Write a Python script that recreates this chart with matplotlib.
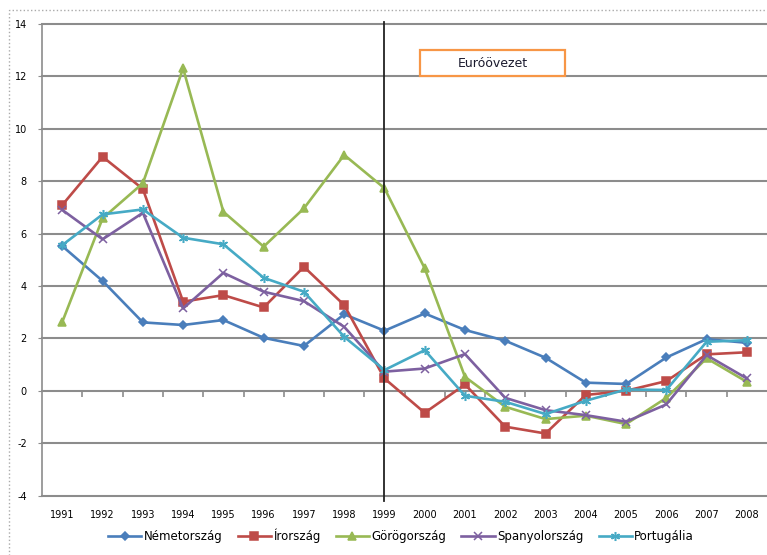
import matplotlib.pyplot as plt
from matplotlib.patches import Rectangle

plt.rcParams["axes.unicode_minus"] = False

years = [str(y) for y in range(1991, 2009)]

nemetorszag = [5.52, 4.19, 2.61, 2.51, 2.70, 2.02, 1.71, 2.92, 2.29,
               2.95, 2.32, 1.91, 1.26, 0.31, 0.26, 1.27, 1.97, 1.83]
irorszag = [7.09, 8.93, 7.70, 3.40, 3.65, 3.18, 4.73, 3.27, 0.47,
            -0.84, 0.24, -1.37, -1.63, -0.16, 0.0, 0.37, 1.39, 1.47]
gorogorszag = [2.63, 6.58, 7.92, 12.3, 6.83, 5.50, 6.96, 9.0, 7.73,
               4.67, 0.53, -0.61, -1.08, -0.95, -1.27, -0.27, 1.24, 0.34]
spanyolorszag = [6.90, 5.78, 6.79, 3.14, 4.50, 3.78, 3.42, 2.44, 0.73,
                 0.85, 1.40, -0.27, -0.74, -0.93, -1.18, -0.52, 1.36, 0.47]
portugalia = [5.56, 6.73, 6.92, 5.84, 5.59, 4.31, 3.78, 2.06, 0.79,
              1.55, -0.19, -0.42, -0.89, -0.38, 0.05, 0.03, 1.87, 1.93]

series = [
    ("Németország", nemetorszag, "#4A7EBB", "D", 4),
    ("Írország", irorszag, "#BE4B48", "s", 5.5),
    ("Görögország", gorogorszag, "#98B954", "^", 5.5),
    ("Spanyolország", spanyolorszag, "#7D60A0", "x", 5.5),
    ("Portugália", portugalia, "#46AAC5", (6, 2, 0), 6.5),
]

fig = plt.figure(figsize=(7.67, 5.55), dpi=100)
ax = fig.add_axes([0.055, 0.107, 0.945, 0.85])

x = list(range(len(years)))
for name, vals, col, mk, ms in series:
    ax.plot(x, vals, color=col, lw=1.9, marker=mk, markersize=ms,
            markeredgecolor=col, markeredgewidth=1.1, label=name)

ax.set_xlim(-0.5, len(years) - 0.5)
ax.set_ylim(-4, 14)
ax.set_yticks(range(-4, 15, 2))
ax.set_xticks(x)
ax.set_xticklabels(years)
ax.tick_params(axis="x", length=0, pad=10, labelsize=7)
ax.tick_params(axis="y", length=3, color="#8c8c8c", labelsize=7, pad=8)
ax.grid(axis="y", color="#8c8c8c", lw=1.5)
for gl in ax.get_ygridlines():
    gl.set_clip_on(False)
ax.set_axisbelow(True)
for s in ["top", "right", "bottom"]:
    ax.spines[s].set_visible(False)
ax.spines["left"].set_color("#8c8c8c")
ax.spines["left"].set_linewidth(1.2)

# category tick marks on the zero line
sec = ax.secondary_xaxis(4 / 18)
sec.spines["bottom"].set_visible(False)
sec.set_xticks([i - 0.5 for i in range(1, len(years))])
sec.tick_params(length=4, color="#8c8c8c", width=1.2, labelbottom=False)

# euro zone entry
ax.axvline(years.index("1999"), ymin=-0.012, ymax=1.005, color="#222222",
           lw=1.3, clip_on=False)
ax.add_patch(Rectangle((8.88, 12.0), 3.6, 1.0, fc="white", ec="#F79646",
                       lw=1.6, zorder=5))
ax.text(10.68, 12.5, "Euróövezet", fontsize=9, ha="center", va="center",
        color="#1a1a2e", zorder=6)

ax.legend(loc="center", bbox_to_anchor=(0.495, -0.085), ncol=5, frameon=False,
          fontsize=8.5, handlelength=2.8, columnspacing=1.3, handletextpad=0.2)

fig.patches.append(Rectangle((0.012, -0.01), 1.0, 0.992, transform=fig.transFigure,
                             fill=False, ec="#aaaaaa", lw=1, ls=":"))

fig.savefig("out.png", dpi=100)
